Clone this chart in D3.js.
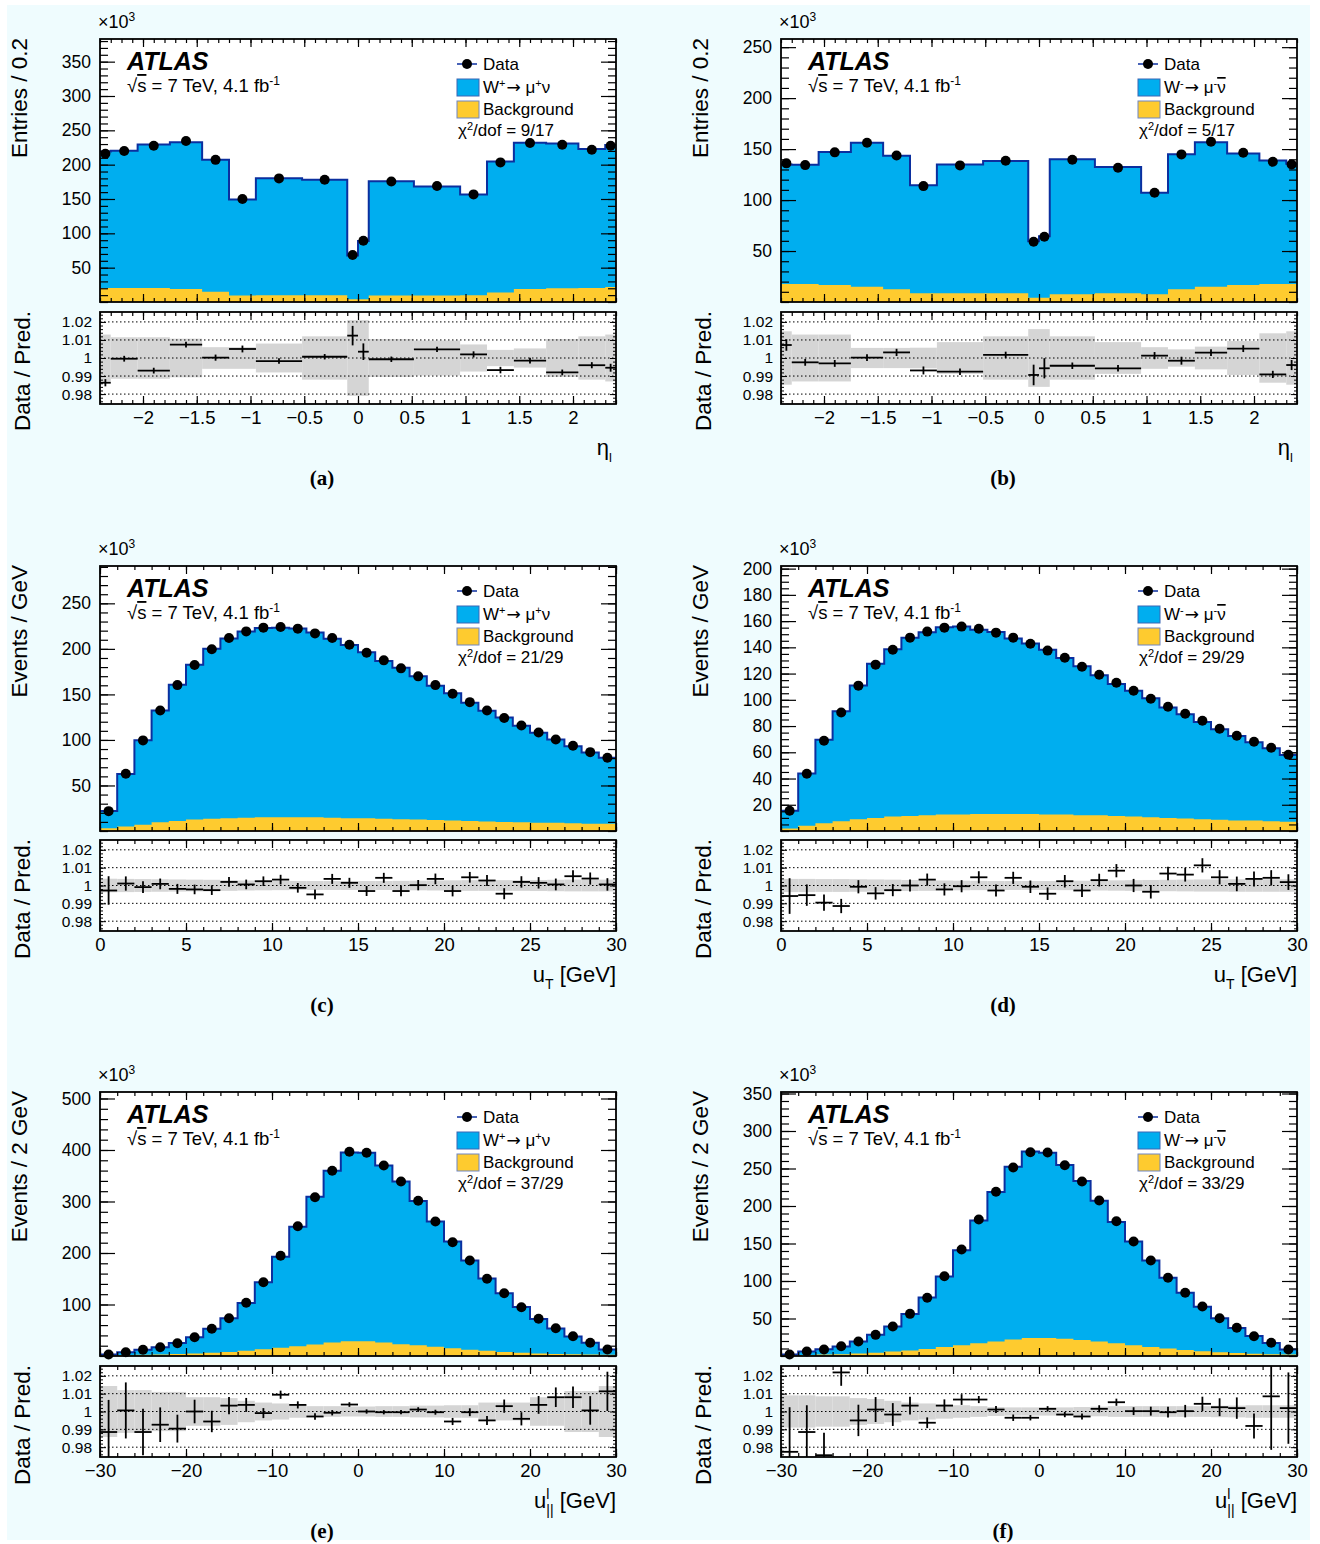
<!DOCTYPE html>
<html><head><meta charset="utf-8">
<script src="https://cdn.jsdelivr.net/npm/d3@7"></script>
<style>
body{margin:0;background:#fff;}
svg text{font-family:"Liberation Sans",Arial,Helvetica,sans-serif;fill:#000;}
</style></head><body>
<svg id="c" width="1320" height="1544"></svg>
<script>
// ---------------- DATA ----------------
const etaEdges = [-2.4,-2.3,-2.05,-1.75,-1.45,-1.2,-0.95,-0.52,-0.1,0,0.1,0.52,0.95,1.2,1.45,1.75,2.05,2.3,2.4];
const utEdges = d3.range(0, 31, 1);
const uparEdges = d3.range(-30, 31, 2);

// (a) W+ eta
const aData = [216,220,227.6,234.4,207,150,180,178,68.4,89.3,175.6,169,156.7,203.3,231.5,229,221.8,227.6];
const aPred = [219.0,220.1,229.2,232.7,207.0,149.3,180.3,177.9,67.6,89.0,175.7,168.2,156.4,204.7,231.8,230.8,222.7,228.8];
const aBkg  = [20.5,20.5,20.5,19,15,9.5,10,10,4,4,9.5,9.5,10,14,19,20,20.5,22];
const aRatio = [0.9863,0.9996,0.993,1.0074,1.0002,1.005,0.9983,1.0007,1.0124,1.0035,0.9993,1.0048,1.002,0.9933,0.9985,0.992,0.996,0.9946];
const aErr  = [0.002,0.0016,0.0016,0.0016,0.0017,0.0019,0.0015,0.0015,0.0054,0.0046,0.0015,0.0015,0.0017,0.0018,0.0016,0.0016,0.0017,0.0022];
const aBand = [0.013,0.0115,0.0115,0.0107,0.006,0.006,0.008,0.012,0.021,0.021,0.0105,0.0097,0.0075,0.0045,0.0053,0.0105,0.012,0.013];

// (b) W- eta
const bData = [136,134.3,146.8,156.2,143.8,113.7,134,138.5,59.1,64,139.5,131.7,107.2,144.8,157.2,146.4,137.6,135];
const bPred = [135.0,134.6,147.2,156.2,143.4,114.5,135.0,138.3,59.7,64.4,140.1,132.5,107.1,145.0,156.7,145.6,138.9,135.5];
const bBkg  = [17.6,17.6,16.7,15,12.4,8.5,8.5,8.5,4.2,4.2,7.5,8.5,7.5,12.4,15,16.7,17.6,17.6];
const bRatio = [1.0072,0.9976,0.997,1.0002,1.0031,0.9931,0.9924,1.0017,0.9906,0.9943,0.9957,0.9943,1.0013,0.9985,1.003,1.0052,0.9909,0.9961];
const bErr  = [0.0032,0.0019,0.0019,0.0019,0.002,0.0022,0.0018,0.0018,0.0057,0.0056,0.0018,0.0018,0.002,0.0022,0.0019,0.0019,0.002,0.0028];
const bBand = [0.0148,0.013,0.013,0.0056,0.0056,0.0057,0.0088,0.012,0.016,0.016,0.012,0.0088,0.006,0.0048,0.0063,0.0094,0.0137,0.0148];

// (c) W+ uT
const cData = [21.8,62.8,99.5,132.4,160.2,182.2,199.5,211.9,219.2,223.3,224,222.2,217,211.9,204.6,195.8,187.4,178.6,169.8,160.2,150.8,141.5,132.4,124,115.9,108.2,100.5,93.6,86.6,80.4];
const cPred = [21.9,62.7,99.6,132.3,160.5,182.6,200.0,211.5,219.1,222.8,223.3,222.5,218.1,211.1,204.3,196.4,186.6,179.2,169.8,159.6,151.3,140.8,132.0,124.6,115.7,108.0,100.4,93.1,86.3,80.4];
const cBkg  = [3,5,7,9.5,11,12.5,13.5,14,14.5,15,15,15,15,14.5,14,14,13.5,13,12.5,12,11.5,11,10.5,10,9.5,9,9,8.5,8,8];
const cRatio = [0.9972,1.0011,0.9991,1.0009,0.9981,0.9978,0.9974,1.002,1.0006,1.0024,1.0033,0.9987,0.995,1.0037,1.0015,0.9969,1.0043,0.9969,1.0002,1.0037,0.9969,1.0046,1.0028,0.9954,1.002,1.0015,1.0006,1.0052,1.0039,1.0006];
const cErr  = [0.008,0.004,0.0033,0.003,0.0028,0.0027,0.0027,0.0027,0.0027,0.0027,0.0027,0.0027,0.0027,0.0028,0.0028,0.0028,0.0028,0.0029,0.0029,0.003,0.003,0.003,0.0031,0.0031,0.0032,0.0032,0.0033,0.0034,0.0034,0.0035];
const cBand = [0.0038,0.0037,0.0036,0.0035,0.0034,0.0033,0.0032,0.003,0.0028,0.0027,0.0026,0.0025,0.0025,0.0025,0.0025,0.0025,0.0025,0.0026,0.0027,0.0028,0.0029,0.003,0.003,0.003,0.003,0.0031,0.0032,0.0033,0.0033,0.0033];

// (d) W- uT
const dData = [15.4,43.6,68.8,90.3,110.8,126.8,138.2,147.4,152,155,155.8,154.2,151.2,147.4,142.8,137.5,132.1,125.2,119.1,113,106.9,100.8,94.7,89.4,84,77.9,72.6,68,63.4,58.1];
const dPred = [15.5,43.8,69.5,91.3,110.9,127.4,138.6,147.4,151.5,155.3,155.9,153.5,151.6,146.8,142.9,138.1,131.8,125.6,118.7,112.1,106.9,101.2,94.1,88.9,83.1,77.5,72.5,67.7,63.1,58.0];
const dBkg  = [2,4,6,7.5,9,10,11,11.5,12,12.5,12.5,13,13,13,13,12.5,12.5,12,12,11.5,11,10.5,10,9.5,9,8.5,8,8,7.5,7];
const dRatio = [0.9941,0.9946,0.9904,0.9885,0.9993,0.9956,0.9974,1.0,1.0033,0.9978,0.9996,1.0046,0.9972,1.0043,0.9993,0.9954,1.0024,0.9972,1.003,1.0083,1.0,0.9965,1.0067,1.0061,1.0113,1.0046,1.0009,1.0037,1.0043,1.0019];
const dErr  = [0.01,0.006,0.0045,0.004,0.0037,0.0035,0.0034,0.0034,0.0034,0.0034,0.0034,0.0034,0.0034,0.0034,0.0035,0.0035,0.0035,0.0036,0.0036,0.0037,0.0037,0.0038,0.0038,0.0039,0.004,0.004,0.0041,0.0042,0.0043,0.0044];
const dBand = [0.0037,0.0037,0.0036,0.0036,0.0035,0.0034,0.0033,0.0031,0.003,0.0028,0.0027,0.0026,0.0025,0.0025,0.0025,0.0025,0.0026,0.0027,0.0028,0.0029,0.003,0.0031,0.0032,0.0033,0.0034,0.0034,0.0035,0.0035,0.0035,0.0035];

// (e) W+ u_parallel
const eData = [3,7.4,12,17,24.9,36.5,52.8,73.4,103.3,143.3,194.6,252,308.4,359.6,396.5,394.6,370,338.8,301.4,261.2,221,185.4,149.9,122,94.8,72.2,54,38.4,25.6,12.6];
const ePred = [3.0,7.4,12.1,17.1,25.1,36.5,53.1,73.2,102.9,143.4,192.8,251.1,309.3,359.9,395.0,394.6,370.1,338.9,301.1,261.3,222.2,185.5,150.7,121.6,95.2,71.9,53.6,38.1,25.6,12.5];
const eBkg  = [1.5,2,2.5,3,4,5,6.5,8,10,13,16,19,22.5,26,28.5,28.5,26,23,21,18,15,12,10,8,6.5,5,4,3.5,3,2.5];
const eRatio = [0.9885,1.0006,0.9885,0.9926,0.9904,1.0,0.9944,1.0033,1.0037,0.9991,1.0094,1.0037,0.9972,0.9993,1.0039,1.0,0.9996,0.9996,1.0011,0.9996,0.9944,0.9996,0.995,1.003,0.9959,1.0037,1.008,1.008,1.0006,1.0113];
const eErr  = [0.018,0.0157,0.013,0.0097,0.0078,0.0066,0.006,0.0048,0.0039,0.0028,0.0023,0.002,0.0018,0.0015,0.0013,0.0012,0.0012,0.0012,0.0013,0.0014,0.002,0.0022,0.0025,0.0037,0.0037,0.005,0.0055,0.006,0.008,0.011];
const eBand = [0.0143,0.012,0.012,0.011,0.011,0.008,0.008,0.0075,0.006,0.005,0.0045,0.0035,0.003,0.003,0.0028,0.0028,0.003,0.003,0.0033,0.0033,0.0035,0.0035,0.005,0.005,0.005,0.008,0.008,0.0115,0.0115,0.0143];

// (f) W- u_parallel
const fData = [2,6,8.7,13.1,19.3,28.2,39.3,56.2,77.6,106.4,142,182,218.9,251.3,271.7,271.3,254.4,232.7,207.3,179.7,152.7,127.3,104.3,84.3,66,50.4,37.6,26.4,17.6,8.7];
const fPred = [2.0,6.1,8.9,12.8,19.4,28.2,39.4,56.0,78.1,106.1,141.0,180.8,218.7,252.2,272.7,270.9,254.8,233.4,207.0,178.8,152.7,127.3,104.3,84.3,65.7,50.3,37.5,26.6,17.5,8.7];
const fBkg  = [1,1.5,2,2.5,3.5,4.5,6,7.5,9.5,12,14.5,17,19.5,22,24,24,23,21.5,19.5,17,14.5,12,10,8,6.5,5,4,3,2.5,2];
const fRatio = [0.9774,0.9885,0.9755,1.0219,0.995,1.0011,0.9983,1.0033,0.9937,1.0033,1.0067,1.0067,1.0011,0.9965,0.9965,1.0015,0.9983,0.9972,1.0015,1.0052,1.0002,1.0002,0.9996,1.0002,1.0043,1.0024,1.0019,0.9919,1.0085,1.0019];
const fErr  = [0.025,0.015,0.0126,0.0075,0.0088,0.007,0.0064,0.005,0.003,0.0035,0.003,0.002,0.002,0.0018,0.0015,0.0015,0.0015,0.0017,0.002,0.002,0.0022,0.0025,0.003,0.0035,0.004,0.005,0.006,0.007,0.03,0.02];
const fBand = [0.009,0.009,0.0085,0.0085,0.0075,0.007,0.006,0.005,0.0045,0.004,0.0035,0.003,0.0025,0.0023,0.0023,0.0023,0.0023,0.0025,0.0027,0.003,0.003,0.003,0.003,0.003,0.003,0.0032,0.0033,0.0035,0.0035,0.0035];

// tick labels
const etaTickLabels = [-2,-1.5,-1,-0.5,0,0.5,1,1.5,2];
const utTickLabels = [0,5,10,15,20,25,30];
const uparTickLabels = [-30,-20,-10,0,10,20,30];
const ratioTickLabels = [0.98,0.99,1,1.01,1.02];
const aYLabels = [50,100,150,200,250,300,350];
const bYLabels = [50,100,150,200,250];
const cYLabels = [50,100,150,200,250];
const dYLabels = [20,40,60,80,100,120,140,160,180,200];
const eYLabels = [100,200,300,400,500];
const fYLabels = [50,100,150,200,250,300,350];

// ---------------- LAYOUT ----------------
const BLUE='#00aeef', DARK='#0b2f9f', YEL='#fecb2f', GRAY='#d5d5d5', BG='#effcfe';
const colX=[100,781], PW=516;
const mainTop=[39,566,1092], mainBot=[302,831,1356], ratTop=[312,840,1366], ratBot=[404,931,1457];
const ARROW_FONT='"DejaVu Sans",sans-serif';

const svg=d3.select('#c');
svg.append('rect').attr('width',1320).attr('height',1544).attr('fill','#fff');
svg.append('rect').attr('x',7).attr('y',5).attr('width',1303).attr('height',1535).attr('fill',BG);
const defs=svg.append('defs');

function rich(sel, x, y, parts, o){
  o=Object.assign({size:18, small:12, sup:7, sub:5, anchor:'start'},o||{});
  const t=sel.append('text').attr('x',x).attr('y',y).attr('font-size',o.size).attr('text-anchor',o.anchor);
  let shift=0;
  parts.forEach(p=>{
    const [s,m,dx,extra,fam]=p;
    const target = m==='sup'? -o.sup : m==='sub'? o.sub : 0;
    const ts=t.append('tspan').attr('dy',target-shift).text(s);
    if(m) ts.attr('font-size',o.small);
    if(dx) ts.attr('dx',dx);
    if(extra) ts.style('text-decoration',extra);
    if(fam) ts.style('font-family',fam);
    shift=target;
  });
  return t;
}

function ticks(g, gen, tr, w){
  const a=g.append('g').attr('transform',tr).call(gen);
  a.select('.domain').remove();
  a.selectAll('line').attr('stroke','#000').attr('stroke-width',w||1.2);
  a.selectAll('text').remove();
  return a;
}
function labels(g, gen, tr, size){
  const a=g.append('g').attr('transform',tr).call(gen);
  a.select('.domain').remove();
  a.selectAll('line').remove();
  a.selectAll('text').attr('font-size',size||18).attr('fill','#000')
    .style('font-family','"Liberation Sans",Arial,sans-serif');
  a.attr('font-family',null).attr('font-size',null);
  return a;
}

const plusSig=[['W'],['+','sup'],['→',null,1,null,ARROW_FONT],[' μ'],['+','sup'],['ν']];
const minusSig=[['W'],['-','sup'],['→',null,1,null,ARROW_FONT],[' μ'],['-','sup'],['ν',null,null,'overline']];

const panels=[
 {id:'a',col:0,row:0,edges:etaEdges,xdom:[-2.4,2.4],data:aData,pred:aPred,bkg:aBkg,ratio:aRatio,err:aErr,band:aBand,ymax:383,yLab:aYLabels,yMinor:10,xLab:etaTickLabels,xMinor:0.1,
  ytitle:'Entries / 0.2', sig:plusSig, chi:'9/17', xt:'eta', letter:'(a)'},
 {id:'b',col:1,row:0,edges:etaEdges,xdom:[-2.4,2.4],data:bData,pred:bPred,bkg:bBkg,ratio:bRatio,err:bErr,band:bBand,ymax:258,yLab:bYLabels,yMinor:10,xLab:etaTickLabels,xMinor:0.1,
  ytitle:'Entries / 0.2', sig:minusSig, chi:'5/17', xt:'eta', letter:'(b)'},
 {id:'c',col:0,row:1,edges:utEdges,xdom:[0,30],data:cData,pred:cPred,bkg:cBkg,ratio:cRatio,err:cErr,band:cBand,ymax:291,yLab:cYLabels,yMinor:10,xLab:utTickLabels,xMinor:1,
  ytitle:'Events / GeV', sig:plusSig, chi:'21/29', xt:'ut', letter:'(c)'},
 {id:'d',col:1,row:1,edges:utEdges,xdom:[0,30],data:dData,pred:dPred,bkg:dBkg,ratio:dRatio,err:dErr,band:dBand,ymax:202,yLab:dYLabels,yMinor:5,xLab:utTickLabels,xMinor:1,
  ytitle:'Events / GeV', sig:minusSig, chi:'29/29', xt:'ut', letter:'(d)'},
 {id:'e',col:0,row:2,edges:uparEdges,xdom:[-30,30],data:eData,pred:ePred,bkg:eBkg,ratio:eRatio,err:eErr,band:eBand,ymax:512.6,yLab:eYLabels,yMinor:20,xLab:uparTickLabels,xMinor:2,
  ytitle:'Events / 2 GeV', sig:plusSig, chi:'37/29', xt:'upar', letter:'(e)'},
 {id:'f',col:1,row:2,edges:uparEdges,xdom:[-30,30],data:fData,pred:fPred,bkg:fBkg,ratio:fRatio,err:fErr,band:fBand,ymax:352,yLab:fYLabels,yMinor:10,xLab:uparTickLabels,xMinor:2,
  ytitle:'Events / 2 GeV', sig:minusSig, chi:'33/29', xt:'upar', letter:'(f)'}
];

function rangeIn(lo,hi,step){ const out=[]; const n=Math.round((hi-lo)/step); for(let i=0;i<=n;i++) out.push(+(lo+i*step).toFixed(6)); return out; }

panels.forEach(p=>{
  const x0=colX[p.col], x1=x0+PW;
  const mt=mainTop[p.row], mb=mainBot[p.row], rt=ratTop[p.row], rb=ratBot[p.row];
  const x=d3.scaleLinear().domain(p.xdom).range([x0,x1]);
  const y=d3.scaleLinear().domain([0,p.ymax]).range([mb,mt]);
  const yr=d3.scaleLinear().domain([0.9745,1.0255]).range([rb,rt]);
  const g=svg.append('g');
  const n=p.pred.length;

  g.append('rect').attr('x',x0).attr('y',mt).attr('width',PW).attr('height',mb-mt).attr('fill','#fff');
  g.append('rect').attr('x',x0).attr('y',rt).attr('width',PW).attr('height',rb-rt).attr('fill','#fff');
  defs.append('clipPath').attr('id','cm'+p.id).append('rect').attr('x',x0).attr('y',mt).attr('width',PW).attr('height',mb-mt);
  defs.append('clipPath').attr('id','cr'+p.id).append('rect').attr('x',x0).attr('y',rt).attr('width',PW).attr('height',rb-rt);

  // stacked histogram
  const stepPts = vals => { const a=vals.map((v,i)=>[p.edges[i],v]); a.push([p.edges[n],vals[n-1]]); return a; };
  const area=d3.area().x(d=>x(d[0])).y0(y(0)).y1(d=>y(d[1])).curve(d3.curveStepAfter);
  const line=d3.line().x(d=>x(d[0])).y(d=>y(d[1])).curve(d3.curveStepAfter);
  const gm=g.append('g').attr('clip-path',`url(#cm${p.id})`);
  gm.append('path').attr('d',area(stepPts(p.pred))).attr('fill',BLUE);
  gm.append('path').attr('d',area(stepPts(p.bkg))).attr('fill',YEL);
  gm.append('path').attr('d',line(stepPts(p.pred))).attr('fill','none').attr('stroke',DARK).attr('stroke-width',2);
  const centers=p.data.map((v,i)=>[(p.edges[i]+p.edges[i+1])/2,v]);
  g.append('g').selectAll('circle').data(centers).join('circle')
    .attr('cx',d=>x(d[0])).attr('cy',d=>y(d[1])).attr('r',5).attr('fill','#000');

  // main frame ticks
  const yMinor=rangeIn(0,Math.floor(p.ymax/p.yMinor)*p.yMinor,p.yMinor);
  const yMajor=p.yLab;
  ticks(g,d3.axisRight(y).tickValues(yMinor).tickSize(8).tickFormat(''),`translate(${x0},0)`);
  ticks(g,d3.axisRight(y).tickValues(yMajor).tickSize(15).tickFormat(''),`translate(${x0},0)`);
  ticks(g,d3.axisLeft(y).tickValues(yMinor).tickSize(8).tickFormat(''),`translate(${x1},0)`);
  ticks(g,d3.axisLeft(y).tickValues(yMajor).tickSize(15).tickFormat(''),`translate(${x1},0)`);
  const xMinor=rangeIn(p.xdom[0],p.xdom[1],p.xMinor);
  ticks(g,d3.axisBottom(x).tickValues(xMinor).tickSize(4).tickFormat(''),`translate(0,${mt})`);
  ticks(g,d3.axisBottom(x).tickValues(p.xLab).tickSize(8).tickFormat(''),`translate(0,${mt})`);
  ticks(g,d3.axisTop(x).tickValues(xMinor).tickSize(4).tickFormat(''),`translate(0,${mb})`);
  ticks(g,d3.axisTop(x).tickValues(p.xLab).tickSize(8).tickFormat(''),`translate(0,${mb})`);
  labels(g,d3.axisLeft(y).tickValues(yMajor).tickSize(0).tickPadding(9).tickFormat(d3.format('d')),`translate(${x0},0)`,17.5);
  g.append('rect').attr('x',x0).attr('y',mt).attr('width',PW).attr('height',mb-mt).attr('fill','none').attr('stroke','#000').attr('stroke-width',1.8);

  // ratio panel
  const gr=g.append('g').attr('clip-path',`url(#cr${p.id})`);
  gr.selectAll('rect.band').data(p.band).join('rect').attr('class','band')
    .attr('x',(d,i)=>x(p.edges[i])).attr('width',(d,i)=>x(p.edges[i+1])-x(p.edges[i]))
    .attr('y',d=>yr(1+d)).attr('height',d=>yr(1-d)-yr(1+d)).attr('fill',GRAY);
  gr.selectAll('line.dot').data(ratioTickLabels).join('line').attr('class','dot')
    .attr('x1',x0).attr('x2',x1).attr('y1',d=>yr(d)).attr('y2',d=>yr(d))
    .attr('stroke','#000').attr('stroke-width',1).attr('stroke-dasharray','1.5,2.5');
  const pts=p.ratio.map((r,i)=>({r,e:p.err[i],lo:p.edges[i],hi:p.edges[i+1]}));
  gr.selectAll('line.h').data(pts).join('line').attr('class','h')
    .attr('x1',d=>x(d.lo)).attr('x2',d=>x(d.hi)).attr('y1',d=>yr(d.r)).attr('y2',d=>yr(d.r))
    .attr('stroke','#000').attr('stroke-width',1.8);
  gr.selectAll('line.v').data(pts).join('line').attr('class','v')
    .attr('x1',d=>x((d.lo+d.hi)/2)).attr('x2',d=>x((d.lo+d.hi)/2)).attr('y1',d=>yr(d.r-d.e)).attr('y2',d=>yr(d.r+d.e))
    .attr('stroke','#000').attr('stroke-width',1.8);

  const rMinor=rangeIn(0.976,1.024,0.002);
  ticks(g,d3.axisRight(yr).tickValues(rMinor).tickSize(3).tickFormat(''),`translate(${x0},0)`,1);
  ticks(g,d3.axisRight(yr).tickValues(ratioTickLabels).tickSize(6).tickFormat(''),`translate(${x0},0)`,1);
  ticks(g,d3.axisLeft(yr).tickValues(rMinor).tickSize(3).tickFormat(''),`translate(${x1},0)`,1);
  ticks(g,d3.axisLeft(yr).tickValues(ratioTickLabels).tickSize(6).tickFormat(''),`translate(${x1},0)`,1);
  ticks(g,d3.axisBottom(x).tickValues(xMinor).tickSize(4).tickFormat(''),`translate(0,${rt})`);
  ticks(g,d3.axisBottom(x).tickValues(p.xLab).tickSize(8).tickFormat(''),`translate(0,${rt})`);
  ticks(g,d3.axisTop(x).tickValues(xMinor).tickSize(4).tickFormat(''),`translate(0,${rb})`);
  ticks(g,d3.axisTop(x).tickValues(p.xLab).tickSize(8).tickFormat(''),`translate(0,${rb})`);
  labels(g,d3.axisLeft(yr).tickValues(ratioTickLabels).tickSize(0).tickPadding(8).tickFormat(d3.format('~g')),`translate(${x0},0)`,15.5);
  labels(g,d3.axisBottom(x).tickValues(p.xLab).tickSize(0).tickPadding(7).tickFormat(d3.format('~g')),`translate(0,${rb})`,18.5);
  g.append('rect').attr('x',x0).attr('y',rt).attr('width',PW).attr('height',rb-rt).attr('fill','none').attr('stroke','#000').attr('stroke-width',1.8);

  // axis titles
  const yx = x0-73;
  g.append('text').attr('transform',`translate(${yx},${mt-1}) rotate(-90)`).attr('text-anchor','end').attr('font-size',22.5).text(p.ytitle);
  g.append('text').attr('transform',`translate(${yx+3},${rt-1}) rotate(-90)`).attr('text-anchor','end').attr('font-size',22.5).text('Data / Pred.');
  rich(g, x0-2, mt-11, [['×10'],['3','sup']], {size:18, small:12, sup:7});
  const xtY = rb+51;
  if(p.xt==='eta') rich(g, x1-4, xtY, [['η'],['l','sub']], {size:22, small:13, sub:7, anchor:'end'});
  else if(p.xt==='ut') rich(g, x1, xtY, [['u'],['T','sub'],[' [GeV]']], {size:22, small:14, sub:7, anchor:'end'});
  else rich(g, x1, xtY, [['u'],['l','sup'],['||','sub',-3],['  [GeV]']], {size:22, small:14, sup:9, sub:7, anchor:'end'});

  // panel letter
  g.append('text').attr('x',x0+222).attr('y',rb+81).attr('text-anchor','middle').attr('font-size',21)
    .attr('font-weight','bold').style('font-family','"Liberation Serif","Times New Roman",serif').text(p.letter);

  // ATLAS labels
  g.append('text').attr('x',x0+27).attr('y',mt+31).attr('font-size',25).attr('font-weight','bold').attr('font-style','italic').text('ATLAS');
  rich(g, x0+27, mt+53, [['√'],['s',null,null,'overline'],[' = 7 TeV, 4.1 fb'],['-1','sup']], {size:18.5, small:12, sup:7});

  // legend
  const lx=x0+357;
  g.append('line').attr('x1',lx).attr('x2',lx+20).attr('y1',mt+25).attr('y2',mt+25).attr('stroke',DARK).attr('stroke-width',1.5);
  g.append('circle').attr('cx',lx+10).attr('cy',mt+25).attr('r',5).attr('fill','#000');
  g.append('rect').attr('x',lx).attr('y',mt+40).attr('width',22).attr('height',17).attr('fill',BLUE).attr('stroke','#3a66b5').attr('stroke-width',1);
  g.append('rect').attr('x',lx).attr('y',mt+62).attr('width',22).attr('height',17).attr('fill',YEL).attr('stroke','#6f86c4').attr('stroke-width',1);
  g.append('text').attr('x',lx+26).attr('y',mt+31).attr('font-size',17).text('Data');
  rich(g, lx+26, mt+54, p.sig, {size:17, small:11, sup:6});
  g.append('text').attr('x',lx+26).attr('y',mt+76).attr('font-size',17).text('Background');
  rich(g, lx+1, mt+97, [['χ'],['2','sup'],['/dof = '+p.chi]], {size:17, small:11, sup:6});
});
</script>
</body></html>
